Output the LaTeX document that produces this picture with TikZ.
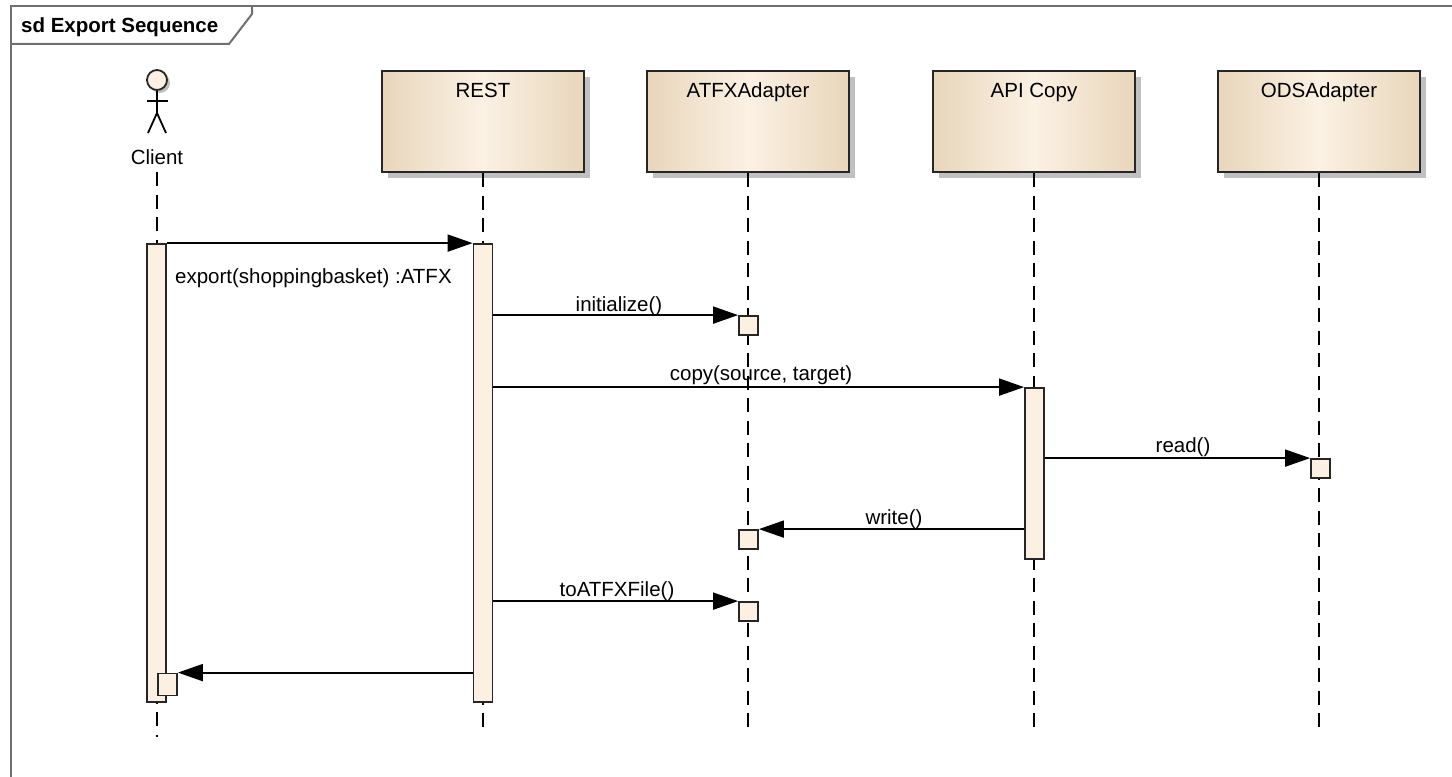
\documentclass[tikz,border=0pt]{standalone}
\usepackage{fontspec}
\setmainfont{Liberation Sans}
\usetikzlibrary{arrows.meta,shadows}
\definecolor{tanedge}{RGB}{232,214,187}
\definecolor{tanmid}{RGB}{251,241,228}
\definecolor{actfill}{RGB}{251,240,226}
\definecolor{framegray}{RGB}{112,112,112}
\definecolor{shadowgray}{RGB}{192,192,192}
\begin{document}
\begin{tikzpicture}[x=1bp,y=-1bp,
  every node/.style={font=\fontsize{20.5bp}{24bp}\selectfont},
  lifebox/.style={draw=black!85, line width=2bp, left color=tanedge, right color=tanedge, middle color=tanmid,
    minimum width=202bp, minimum height=101bp, inner sep=0pt,
    drop shadow={shadow xshift=6bp, shadow yshift=-6bp, fill=shadowgray, opacity=1}},
  actbar/.style={draw=black!85, line width=1.8bp, fill=actfill, inner sep=0pt, minimum width=19bp},
  smallbox/.style={draw=black!85, line width=1.8bp, fill=actfill, inner sep=0pt, minimum width=19bp, minimum height=19bp},
  lifeline/.style={line width=2bp, dash pattern=on 14bp off 8.5bp},
  msg/.style={line width=1.8bp, -{Triangle[length=25bp,width=17bp]}},
  msglabel/.style={anchor=base, inner sep=0pt},
  actorline/.style={line width=1.8bp},
  framestyle/.style={draw=framegray, line width=2bp}
]
\useasboundingbox (0,0) rectangle (1452,776);
% frame
\draw[framestyle] (11,790) -- (11,6) -- (1470,6);
\draw[framestyle] (11,44) -- (229,44) -- (252,14) -- (252,6);
\node[anchor=base west, inner sep=0pt, font=\fontsize{20.5bp}{24bp}\selectfont\bfseries] (title) at (21,33) {sd Export Sequence};

% lifeline heads
\node[lifebox, label={[anchor=base, yshift=-27bp, inner sep=0pt]north:REST}] (rest) at (483,121.5) {};
\node[lifebox, label={[anchor=base, yshift=-27bp, inner sep=0pt]north:ATFXAdapter}] (atfx) at (748,121.5) {};
\node[lifebox, label={[anchor=base, yshift=-27bp, inner sep=0pt]north:API Copy}] (api) at (1034,121.5) {};
\node[lifebox, label={[anchor=base, yshift=-27bp, inner sep=0pt]north:ODSAdapter}] (ods) at (1319,121.5) {};

% actor
\node[circle, draw=black!85, line width=1.8bp, fill=actfill, minimum size=20bp, inner sep=0pt,
  drop shadow={shadow xshift=3bp, shadow yshift=-3bp, fill=shadowgray, opacity=1}] (chead) at (157,80) {};
\coordinate (chip) at (157,113);
\draw[actorline] (chead.south) -- (chip);
\draw[actorline] (147,101) -- (168,101);
\draw[actorline] (148,133) -- (chip) -- (166,133);
\node[msglabel] (client) at (157,164) {Client};

% lifeline ends
\coordinate (cstart) at (157,172);
\coordinate (cend) at (157,737);
\coordinate (restend) at (483,727);
\coordinate (atfxend) at (748,727);
\coordinate (apiend) at (1034,727);
\coordinate (odsend) at (1319,727);
\draw[lifeline] (cstart) -- (cend);
\draw[lifeline] (rest.south) -- (restend);
\draw[lifeline] (atfx.south) -- (atfxend);
\draw[lifeline] (api.south) -- (apiend);
\draw[lifeline] (ods.south) -- (odsend);

% activation bars
\node[actbar, minimum height=458bp] (cbar) at (156.5,473) {};
\node[actbar, minimum height=458bp] (rbar) at (483,473) {};
\node[actbar, minimum height=171bp] (abar) at (1034.5,473.5) {};

% small execution boxes
\node[smallbox] (ib) at (748.5,325.5) {};
\node[smallbox] (ob) at (1320.5,468.5) {};
\node[smallbox] (wb) at (748.5,539.5) {};
\node[smallbox] (tb) at (748.5,611.5) {};
\node[smallbox, minimum height=22bp] (cb) at (167.5,684.5) {};

% messages
\draw[msg] (cbar.north east) -- (rbar.north west);
\node[anchor=base west, inner sep=0pt] (l1) at (175,283) {export(shoppingbasket) :ATFX};
\draw[msg] (rbar.east |- ib.north) -- (ib.north west);
\node[msglabel] (l2) at (619,311) {initialize()};
\draw[msg] (rbar.east |- abar.north) -- (abar.north west);
\node[msglabel] (l3) at (761,380) {copy(source, target)};
\draw[msg] (abar.east |- ob.north) -- (ob.north west);
\node[msglabel] (l4) at (1183,452) {read()};
\draw[msg] (abar.west |- wb.north) -- (wb.north east);
\node[msglabel] (l5) at (894,524) {write()};
\draw[msg] (rbar.east |- tb.north) -- (tb.north west);
\node[msglabel] (l6) at (617,596) {toATFXFile()};
\draw[msg] (rbar.west |- cb.north) -- (cb.north east);
\end{tikzpicture}
\end{document}
